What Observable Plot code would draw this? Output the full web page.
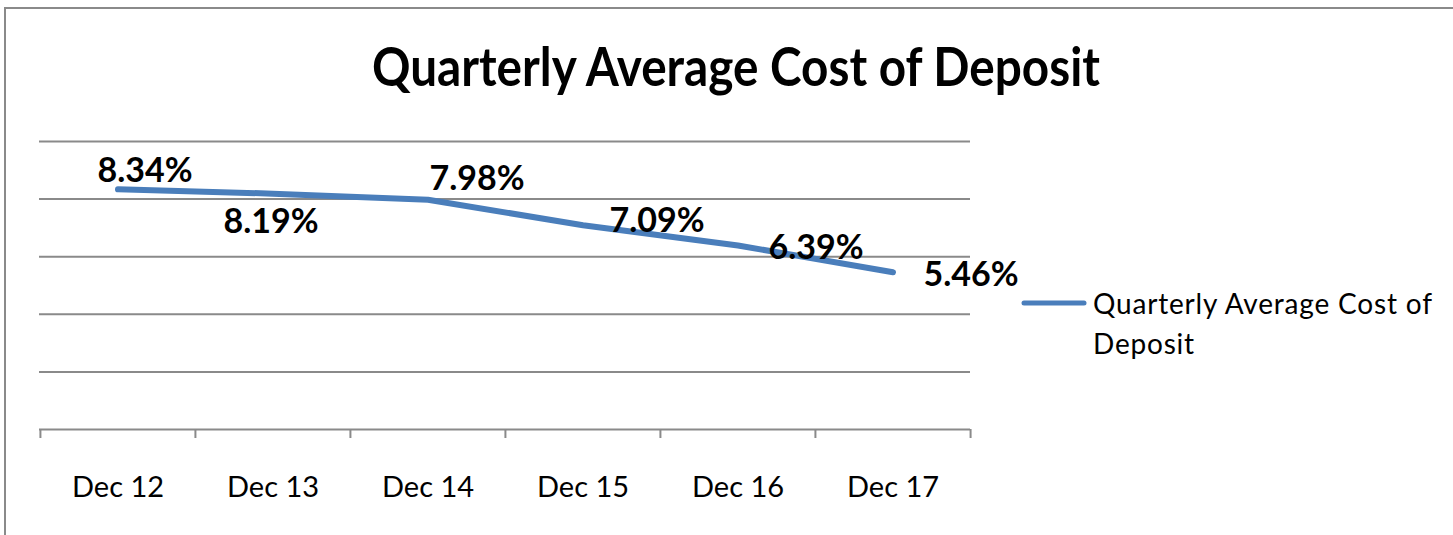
<!DOCTYPE html>
<html>
<head>
<meta charset="utf-8">
<script src="https://cdn.jsdelivr.net/npm/d3@7"></script>
<script src="https://cdn.jsdelivr.net/npm/@observablehq/plot@0.6"></script>
<style>
  html, body { margin: 0; padding: 0; background: #fff; }
  #wrap { position: relative; width: 1453px; height: 535px; overflow: hidden; }
  #border { position: absolute; left: 3.5px; top: 7px; right: -10px; bottom: -10px;
            border-top: 2.5px solid #8a8a8a; border-left: 2px solid #8a8a8a; }
  #chart { position: absolute; left: 0; top: 0; }
</style>
</head>
<body>
<div id="wrap"><div id="border"></div><div id="chart"></div></div>
<script>
// ---- data ----
const categories = ["Dec 12", "Dec 13", "Dec 14", "Dec 15", "Dec 16", "Dec 17"];
const costOfDeposit = [8.34, 8.19, 7.98, 7.09, 6.39, 5.46];
const gridValues = [0, 2, 4, 6, 8, 10];
const titleText = "Quarterly Average Cost of Deposit";
const seriesName = ["Quarterly Average Cost of", "Deposit"];

// ---- layout ----
const W = 1453, H = 535;
const mL = 39, mR = W - 970, mT = 141, mB = H - 429;
const blue = "#4a7ebb";
const grey = "#8a8a8a";
const font = "Lato, 'Open Sans', sans-serif";
const bw = (W - mL - mR) / categories.length;
const pxPerUnit = (H - mT - mB) / 10;
const idx = d3.range(categories.length);
const labelOffsets = [[27, -18], [-2, 28], [49, -21], [74, -4], [78, 3], [78, 3]];

const plot = Plot.plot({
  width: W,
  height: H,
  marginLeft: mL,
  marginRight: mR,
  marginTop: mT,
  marginBottom: mB,
  style: { fontFamily: font, background: "transparent", color: "#000" },
  x: { type: "band", domain: categories, padding: 0, axis: null },
  y: { domain: [0, 10], axis: null },
  marks: [
    Plot.ruleY(gridValues, { stroke: grey, strokeWidth: 2, strokeOpacity: 1 }),
    // Excel-style ticks at category boundaries
    Plot.ruleX(categories, { x: d => d, y1: 0, y2: -9 / pxPerUnit, dx: -bw / 2, stroke: grey, strokeWidth: 2 }),
    Plot.ruleX([categories[categories.length - 1]], { x: d => d, y1: 0, y2: -9 / pxPerUnit, dx: bw / 2, stroke: grey, strokeWidth: 2 }),
    Plot.axisX({ tickSize: 0, tickPadding: 47, fontSize: 29, fill: "#000", fontWeight: 400 }),
    Plot.line(idx, {
      x: i => categories[i], y: i => costOfDeposit[i],
      stroke: blue, strokeWidth: 6, strokeLinecap: "round", strokeLinejoin: "round"
    }),
    ...idx.map(i => Plot.text([i], {
      x: j => categories[j], y: j => costOfDeposit[j],
      text: j => costOfDeposit[j].toFixed(2) + "%",
      dx: labelOffsets[i][0], dy: labelOffsets[i][1],
      fontSize: 34, fontWeight: "bold", fill: "#000"
    }))
  ]
});

document.getElementById("chart").appendChild(plot);

// title and legend inside the SVG
const svg = d3.select(plot);
svg.append("text")
  .attr("x", 736).attr("y", 86)
  .attr("text-anchor", "middle")
  .attr("font-family", font)
  .attr("font-weight", "bold")
  .attr("font-size", 53)
  .attr("textLength", 728)
  .attr("lengthAdjust", "spacingAndGlyphs")
  .attr("fill", "#000")
  .text(titleText);

svg.append("line")
  .attr("x1", 1024).attr("x2", 1084).attr("y1", 303).attr("y2", 303)
  .attr("stroke", blue).attr("stroke-width", 5).attr("stroke-linecap", "round");

const lg = svg.append("text")
  .attr("font-family", font)
  .attr("font-size", 28)
  .attr("text-anchor", "start")
  .attr("fill", "#000");
lg.append("tspan").attr("x", 1093).attr("y", 314)
  .attr("textLength", 339).attr("lengthAdjust", "spacing").text(seriesName[0]);
lg.append("tspan").attr("x", 1093).attr("y", 354)
  .attr("letter-spacing", 0.8).text(seriesName[1]);
</script>
</body>
</html>
